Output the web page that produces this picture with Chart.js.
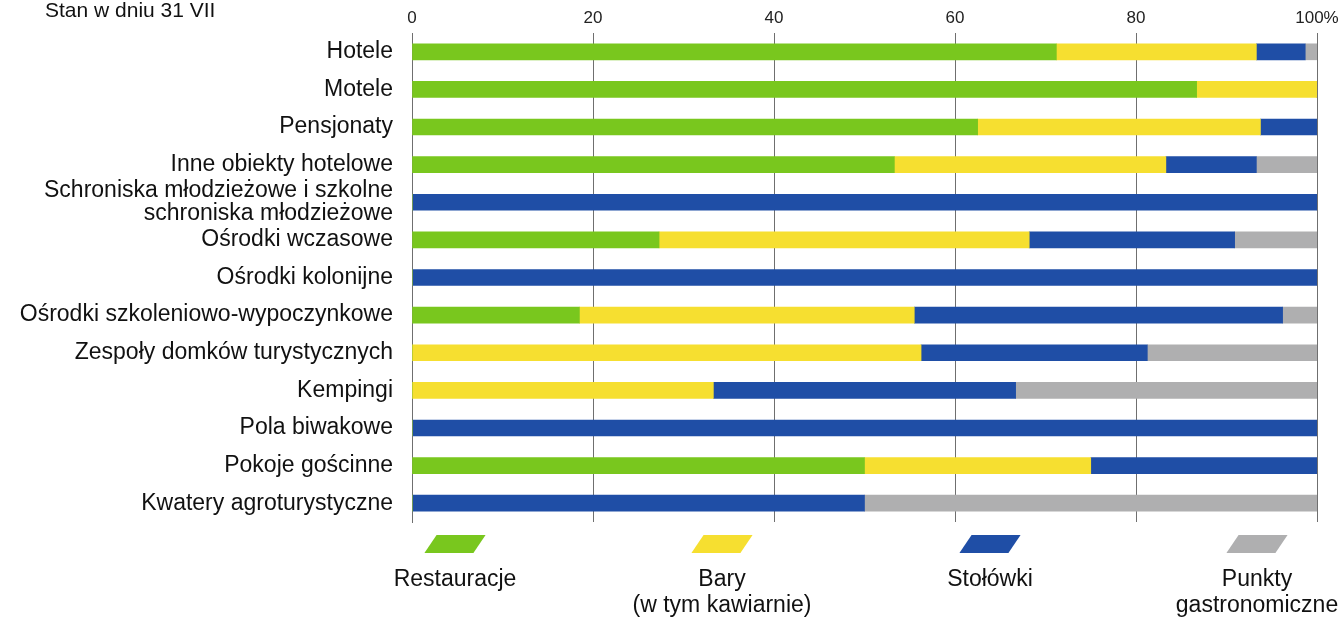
<!DOCTYPE html>
<html>
<head>
<meta charset="utf-8">
<script src="https://cdn.jsdelivr.net/npm/chart.js@4"></script>
<style>
  html, body { margin: 0; padding: 0; background: #fff; }
  #wrap { position: relative; width: 1344px; height: 617px; overflow: hidden; font-family: "Liberation Sans", Arial, sans-serif; color: #000; }
  #c { position: absolute; left: 0; top: 0; }
  #title { position: absolute; left: 45px; top: 0px; font-size: 21px; line-height: 20px; white-space: nowrap; color: #111; }
  .sw { position: absolute; width: 49px; height: 18px; top: 535px; transform: translateX(-50%) skewX(-34deg); }
  .lab { position: absolute; top: 565px; transform: translateX(-50%); font-size: 23px; line-height: 26px; text-align: center; white-space: nowrap; color: #111; }
</style>
</head>
<body>
<div id="wrap">
  <canvas id="c" width="1344" height="617"></canvas>
  <div id="title">Stan w dniu 31 VII</div>
  <div id="legend"></div>
</div>
<script>
const categories = [
  "Hotele",
  "Motele",
  "Pensjonaty",
  "Inne obiekty hotelowe",
  ["Schroniska młodzieżowe i szkolne", "schroniska młodzieżowe"],
  "Ośrodki wczasowe",
  "Ośrodki kolonijne",
  "Ośrodki szkoleniowo-wypoczynkowe",
  "Zespoły domków turystycznych",
  "Kempingi",
  "Pola biwakowe",
  "Pokoje gościnne",
  "Kwatery agroturystyczne"
];
const restauracje = [71.2, 86.7, 62.5, 53.3, 0, 27.3, 0, 18.5, 0, 0, 0, 50, 0];
const bary        = [22.1, 13.3, 31.25, 30.0, 0, 40.9, 0, 37.0, 56.25, 33.3, 0, 25, 0];
const stolowki    = [5.4, 0, 6.25, 10.0, 100, 22.7, 100, 40.7, 25.0, 33.4, 100, 25, 50];
const punkty      = [1.3, 0, 0, 6.7, 0, 9.1, 0, 3.8, 18.75, 33.3, 0, 0, 50];
const seriesNames = ["Restauracje", ["Bary", "(w tym kawiarnie)"], "Stołówki", ["Punkty", "gastronomiczne"]];
const seriesColors = ["#79c71e", "#f6df30", "#1f4ea6", "#afafb0"];
const tickValues = [0, 20, 40, 60, 80, 100];
const tickLabels = ["0", "20", "40", "60", "80", "100%"];

const FONT = '"Liberation Sans", Arial, sans-serif';
const seriesData = [restauracje, bary, stolowki, punkty];

new Chart(document.getElementById('c'), {
  type: 'bar',
  data: {
    labels: categories,
    datasets: seriesData.map((d, i) => ({
      label: Array.isArray(seriesNames[i]) ? seriesNames[i].join(' ') : seriesNames[i],
      data: d,
      backgroundColor: seriesColors[i],
      borderWidth: 0,
      barThickness: 16
    }))
  },
  options: {
    indexAxis: 'y',
    responsive: false,
    animation: false,
    layout: { padding: { left: 0, right: 27, top: 0, bottom: 95 } },
    plugins: { legend: { display: false }, tooltip: { enabled: false } },
    scales: {
      x: {
        position: 'top',
        stacked: true,
        min: 0, max: 100,
        afterBuildTicks: s => { s.ticks = tickValues.map(v => ({ value: v })); },
        afterFit: s => { s.height = 33; },
        ticks: {
          padding: 4,
          color: '#222',
          autoSkip: false,
          maxRotation: 0,
          font: { family: FONT, size: 17 },
          callback: (v) => tickLabels[tickValues.indexOf(v)]
        },
        grid: { color: '#6f6f6f', lineWidth: 1, drawTicks: false },
        border: { display: false }
      },
      y: {
        stacked: true,
        afterFit: s => { s.width = 412; },
        ticks: {
          padding: 19,
          color: '#111',
          autoSkip: false,
          font: { family: FONT, size: 23, lineHeight: 1.0 }
        },
        grid: { display: false, drawTicks: false },
        border: { display: true, color: '#6f6f6f', width: 1 }
      }
    }
  }
});

const legendCenters = [455, 722, 990, 1257];
const lg = document.getElementById('legend');
seriesNames.forEach((n, i) => {
  const sw = document.createElement('div');
  sw.className = 'sw';
  sw.style.left = legendCenters[i] + 'px';
  sw.style.background = seriesColors[i];
  lg.appendChild(sw);
  const lb = document.createElement('div');
  lb.className = 'lab';
  lb.style.left = legendCenters[i] + 'px';
  lb.innerHTML = (Array.isArray(n) ? n : [n]).join('<br>');
  lg.appendChild(lb);
});
</script>
</body>
</html>
